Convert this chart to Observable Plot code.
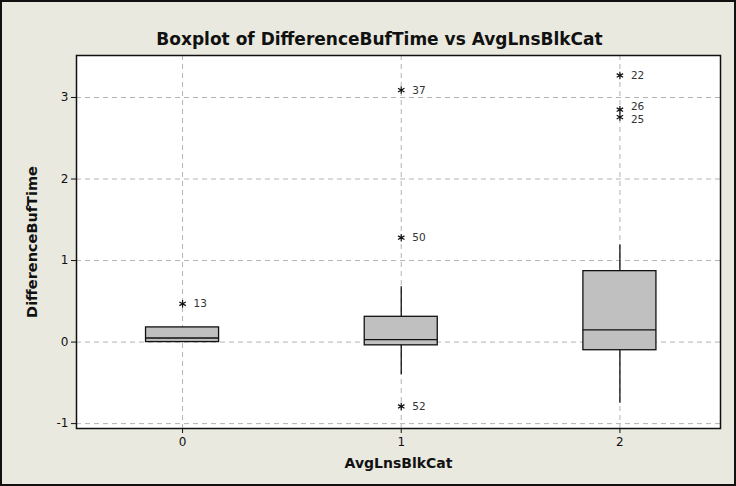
<!DOCTYPE html>
<html><head><meta charset="utf-8">
<script src="https://cdn.jsdelivr.net/npm/d3@7"></script>
<script src="https://cdn.jsdelivr.net/npm/@observablehq/plot@0.6"></script>
<style>
html,body{margin:0;padding:0;background:#e9e9df;}
#chart{width:736px;height:486px;position:relative;}
#chart svg{display:block;outline:2px solid #111;outline-offset:-2px;}
</style></head>
<body><div id="chart"></div>
<script>
const title = "Boxplot of DifferenceBufTime vs AvgLnsBlkCat";
const xLabel = "AvgLnsBlkCat";
const yLabel = "DifferenceBufTime";
const categories = [0, 1, 2];
const q1 = [0.0, -0.04, -0.10];
const medians = [0.05, 0.03, 0.15];
const q3 = [0.18, 0.31, 0.87];
const whiskerLow = [0.0, -0.40, -0.75];
const whiskerHigh = [0.18, 0.68, 1.19];
const outlierCat = [0, 1, 1, 1, 2, 2, 2];
const outlierVal = [0.47, 3.09, 1.28, -0.79, 3.27, 2.85, 2.76];
const outlierId = ["13", "37", "50", "52", "22", "26", "25"];
const yTicks = [-1, 0, 1, 2, 3];

const half = 0.167;
const boxes = categories.map((c, i) => ({c, q1: q1[i], med: medians[i], q3: q3[i], lo: whiskerLow[i], hi: whiskerHigh[i]}));
const outliers = outlierCat.map((c, i) => ({c, v: outlierVal[i], id: outlierId[i]}));
const font = "Tahoma, 'DejaVu Sans', sans-serif";
const fmt = d => String(d);
const txt = {x: "c", y: "v", text: "id", dx: 11, textAnchor: "start", fontSize: 10.5, fill: "#333"};

const plot = Plot.plot({
  width: 736, height: 486,
  marginLeft: 76, marginRight: 16, marginTop: 55, marginBottom: 58,
  style: {background: "transparent", fontFamily: font, fontSize: "12px", color: "#111"},
  x: {type: "linear", domain: [-0.485, 2.46], label: null},
  y: {domain: [-1.06, 3.515], label: null},
  marks: [
    Plot.rect([0], {x1: -0.485, x2: 2.46, y1: -1.06, y2: 3.515, fill: "white"}),
    Plot.gridX(categories, {stroke: "#b4b4b4", strokeOpacity: 1, strokeDasharray: "5,4"}),
    Plot.gridY(yTicks, {stroke: "#b4b4b4", strokeOpacity: 1, strokeDasharray: "5,4"}),
    Plot.ruleX(boxes, {x: "c", y1: "lo", y2: "hi", stroke: "#111", strokeWidth: 1.3}),
    Plot.rect(boxes, {x1: d => d.c - half, x2: d => d.c + half, y1: "q1", y2: "q3", fill: "#c0c0c0", stroke: "#111", strokeWidth: 1.3}),
    Plot.ruleY(boxes, {y: "med", x1: d => d.c - half, x2: d => d.c + half, stroke: "#111", strokeWidth: 1.3}),
    Plot.dot(outliers, {x: "c", y: "v", symbol: "asterisk", r: 3.5, stroke: "#111", strokeWidth: 1.2}),
    Plot.text(outliers.filter(d => d.id !== "26" && d.id !== "25"), txt),
    Plot.text(outliers.filter(d => d.id === "26"), {...txt, dy: -3}),
    Plot.text(outliers.filter(d => d.id === "25"), {...txt, dy: 3}),
    Plot.frame({stroke: "#111", strokeWidth: 1.5}),
    Plot.axisX(categories, {tickSize: 5, tickPadding: 4, tickFormat: fmt, label: null, fontSize: 12}),
    Plot.axisY(yTicks, {tickSize: 5, tickPadding: 3, tickFormat: fmt, label: null, fontSize: 12}),
    Plot.text([title], {frameAnchor: "top", dx: -19, dy: -23, fontWeight: "bold", fontSize: 17, fontFamily: font, fill: "#111"}),
    Plot.text([xLabel], {frameAnchor: "bottom", dy: 39, fontWeight: "bold", fontSize: 14, fontFamily: font, fill: "#111"}),
    Plot.text([yLabel], {frameAnchor: "left", dx: -44, rotate: -90, textAnchor: "middle", fontWeight: "bold", fontSize: 14.5, fontFamily: font, fill: "#111"})
  ]
});
document.getElementById("chart").appendChild(plot);
</script></body></html>
